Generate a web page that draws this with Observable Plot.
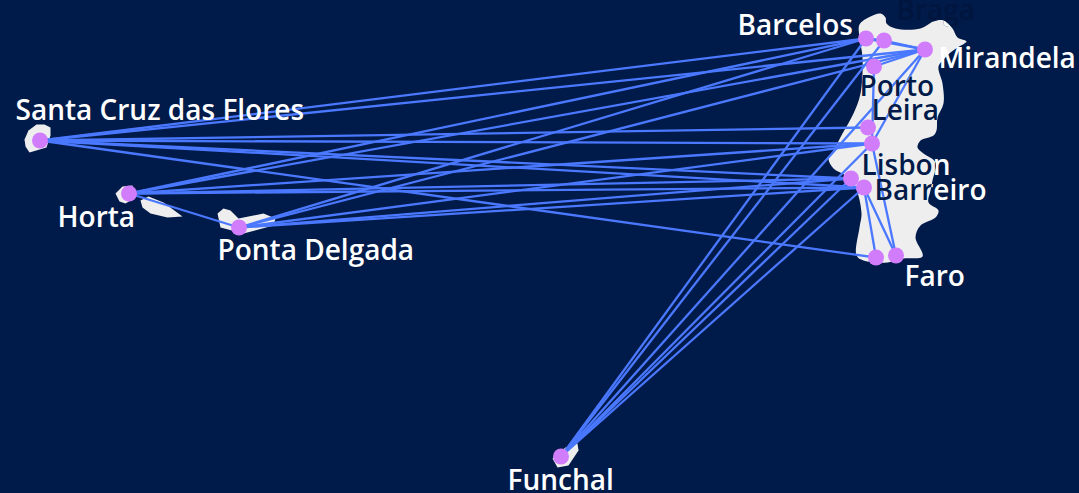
<!DOCTYPE html>
<html>
<head>
<meta charset="utf-8">
<style>
html,body{margin:0;padding:0;background:#001a49;overflow:hidden}
svg{display:block}
</style>
<script src="https://cdn.jsdelivr.net/npm/d3@7"></script>
<script src="https://cdn.jsdelivr.net/npm/@observablehq/plot@0.6"></script>
</head>
<body>
<div id="chart"></div>
<script>
// Values, in map units
const mainland = [[859,24],[870,16],[880,13],[885,17],[886,23],[895,28],[920,28],[933,21],[943,20],[952,28],[957,37],[966,41],[957,47],[950,52],[944,58],[938,66],[942,83],[943,103],[937,117],[936,130],[933,135],[920,140],[917,147],[923,153],[935,162],[932,180],[930,190],[928,202],[938,210],[935,217],[920,225],[915,237],[922,256],[903,258],[887,262],[863,260],[856,255],[859,227],[861,213],[855,187],[845,175],[833,168],[828,158],[833,150],[842,133],[853,113],[860,93],[862,57],[859,37]];
const flores = [[24,139],[28,130],[36,124],[44,124],[50,127],[50,135],[46,147],[29,152],[25,146]];
const faial = [[115,193],[122,186],[132,185],[135,197],[125,203],[119,201]];
const pico = [[140,200],[148,196],[163,202],[182,216],[167,217],[150,213],[142,207]];
const saoMiguel = [[217,213],[223,208],[230,210],[238,218],[263,213],[275,218],[273,225],[243,233],[220,227]];
const madeira = [[565,447],[577,443],[578,450],[568,465],[557,467],[552,458]];
const smallIslands = [flores, faial, pico, saoMiguel, madeira];

const airportNames = ["Santa Cruz das Flores","Horta","Ponta Delgada","Funchal","Barcelos","Braga","Mirandela","Porto","Leira","Coimbra","Lisbon","Barreiro","Portimao","Faro"];
const airportX = [39.5,128.5,238.5,560.5,865.5,883.5,924.5,873.5,867.5,871.5,850.5,863.5,875.5,895.5];
const airportY = [140,193,227,456,38,40,49,66,127,143,178,187,257,255];

const routes = [
  ["Santa Cruz das Flores",["Barcelos","Mirandela","Leira","Coimbra","Lisbon","Barreiro","Portimao"]],
  ["Horta",["Barcelos","Mirandela","Coimbra","Lisbon","Barreiro","Ponta Delgada"]],
  ["Ponta Delgada",["Barcelos","Mirandela","Coimbra","Lisbon","Barreiro"]],
  ["Funchal",["Barcelos","Braga","Mirandela","Coimbra","Lisbon","Barreiro"]],
  ["Barcelos",["Braga","Mirandela"]],
  ["Braga",["Mirandela"]],
  ["Porto",["Mirandela","Coimbra"]],
  ["Mirandela",["Coimbra"]],
  ["Coimbra",["Faro"]],
  ["Barreiro",["Portimao","Faro"]]
];

const labelTexts = ["Santa Cruz das Flores","Horta","Ponta Delgada","Funchal","Barcelos","Braga","Mirandela","Porto","Leira","Lisbon","Barreiro","Faro"];
const labelX = [15,57,217,507,737,896,938,859,871,861,874,904];
const labelY = [110.5,217.5,250.5,480.5,25.5,10.5,58.5,86.5,110.5,165.5,190.5,276.5];

const pos = new Map(airportNames.map((n,i)=>[n,[airportX[i],airportY[i]]]));
const links = routes.flatMap(([a,bs])=>bs.map(b=>({a:pos.get(a),b:pos.get(b)})));
const mainRows = mainland.map(([x,y])=>({x,y}));
const islandRows = smallIslands.flatMap((poly,i)=>poly.map(([x,y])=>({i,x,y})));
const airports = airportNames.map((name,i)=>({name,x:airportX[i],y:airportY[i]}));
const labels = labelTexts.map((t,i)=>({t,x:labelX[i],y:labelY[i]}));

const NAVY="#001a49", LAND="#eeeeee", LINK="#4a78ff", DOT="#d07cfb";
const font={fontFamily:"'Open Sans'",fontSize:28,fontWeight:600,textAnchor:"start",lineAnchor:"middle"};

const plot = Plot.plot({
  width:1079,height:493,margin:0,
  style:{background:NAVY},
  x:{domain:[0,1079],range:[0,1079],axis:null},
  y:{domain:[0,493],range:[0,493],axis:null},
  marks:[
    Plot.line(mainRows,{x:"x",y:"y",fill:LAND,stroke:"none",curve:"catmull-rom-closed"}),
    Plot.line(islandRows,{x:"x",y:"y",z:"i",fill:LAND,stroke:"none",curve:"linear-closed"}),
    Plot.link(links,{x1:d=>d.a[0],y1:d=>d.a[1],x2:d=>d.b[0],y2:d=>d.b[1],stroke:LINK,strokeWidth:2.3}),
    Plot.dot(airports,{x:"x",y:"y",r:8,fill:DOT,stroke:"none"}),
    Plot.text(labels,{x:"x",y:"y",text:"t",...font,fill:d=>d.t==="Braga"?"#00163f":"#ffffff"}),
    Plot.text(labels,{x:"x",y:"y",text:"t",...font,fill:d=>d.t==="Braga"||d.t==="Mirandela"?"#ffffff":NAVY})
  ]
});

// second text layer shows only over the land
const ns="http://www.w3.org/2000/svg";
const defs=document.createElementNS(ns,"defs");
const cp=document.createElementNS(ns,"clipPath");
cp.setAttribute("id","landClip");
plot.querySelectorAll('g[aria-label="line"] path').forEach(p=>{
  const c=document.createElementNS(ns,"path");
  c.setAttribute("d",p.getAttribute("d"));
  cp.appendChild(c);
});
defs.appendChild(cp);
plot.insertBefore(defs,plot.firstChild);
const textLayers=plot.querySelectorAll('g[aria-label="text"]');
textLayers[1].setAttribute("clip-path","url(#landClip)");

document.getElementById("chart").appendChild(plot);
</script>
</body>
</html>
